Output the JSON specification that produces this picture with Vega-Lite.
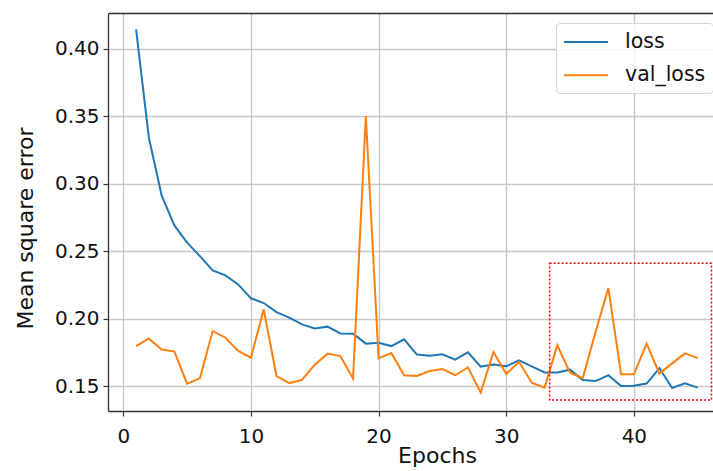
{
  "$schema": "https://vega.github.io/schema/vega-lite/v6.json",
  "width": 605,
  "height": 398,
  "autosize": {"type": "none"},
  "padding": {"left": 108, "top": 13, "right": 0, "bottom": 60},
  "background": "white",
  "config": {
    "view": {"stroke": null},
    "font": "DejaVu Sans",
    "axis": {
      "labelFont": "DejaVu Sans",
      "titleFont": "DejaVu Sans",
      "labelFontSize": 20,
      "titleFontSize": 22,
      "titleFontWeight": "normal",
      "labelColor": "#111",
      "titleColor": "#111",
      "domainColor": "#333",
      "domainWidth": 1.3,
      "tickColor": "#333",
      "tickSize": 5,
      "tickWidth": 1.2,
      "gridColor": "#c8c8c8",
      "gridWidth": 1.4
    },
    "legend": {
      "labelFont": "DejaVu Sans",
      "labelFontSize": 20.5,
      "labelColor": "#111"
    }
  },
  "datasets": {
    "hist": [
      {"epoch": 1, "series": "loss", "value": 0.4142},
      {"epoch": 2, "series": "loss", "value": 0.334},
      {"epoch": 3, "series": "loss", "value": 0.2913},
      {"epoch": 4, "series": "loss", "value": 0.269},
      {"epoch": 5, "series": "loss", "value": 0.2562},
      {"epoch": 6, "series": "loss", "value": 0.2463},
      {"epoch": 7, "series": "loss", "value": 0.2357},
      {"epoch": 8, "series": "loss", "value": 0.232},
      {"epoch": 9, "series": "loss", "value": 0.2253},
      {"epoch": 10, "series": "loss", "value": 0.215},
      {"epoch": 11, "series": "loss", "value": 0.2115},
      {"epoch": 12, "series": "loss", "value": 0.2048},
      {"epoch": 13, "series": "loss", "value": 0.2007},
      {"epoch": 14, "series": "loss", "value": 0.1957},
      {"epoch": 15, "series": "loss", "value": 0.1927},
      {"epoch": 16, "series": "loss", "value": 0.194},
      {"epoch": 17, "series": "loss", "value": 0.189},
      {"epoch": 18, "series": "loss", "value": 0.1888},
      {"epoch": 19, "series": "loss", "value": 0.1814},
      {"epoch": 20, "series": "loss", "value": 0.1821},
      {"epoch": 21, "series": "loss", "value": 0.1796},
      {"epoch": 22, "series": "loss", "value": 0.1846},
      {"epoch": 23, "series": "loss", "value": 0.1733},
      {"epoch": 24, "series": "loss", "value": 0.1725},
      {"epoch": 25, "series": "loss", "value": 0.1735},
      {"epoch": 26, "series": "loss", "value": 0.1695},
      {"epoch": 27, "series": "loss", "value": 0.175},
      {"epoch": 28, "series": "loss", "value": 0.1644},
      {"epoch": 29, "series": "loss", "value": 0.166},
      {"epoch": 30, "series": "loss", "value": 0.1646},
      {"epoch": 31, "series": "loss", "value": 0.169},
      {"epoch": 32, "series": "loss", "value": 0.1646},
      {"epoch": 33, "series": "loss", "value": 0.1601},
      {"epoch": 34, "series": "loss", "value": 0.16},
      {"epoch": 35, "series": "loss", "value": 0.1621},
      {"epoch": 36, "series": "loss", "value": 0.1545},
      {"epoch": 37, "series": "loss", "value": 0.1537},
      {"epoch": 38, "series": "loss", "value": 0.158},
      {"epoch": 39, "series": "loss", "value": 0.15},
      {"epoch": 40, "series": "loss", "value": 0.1502},
      {"epoch": 41, "series": "loss", "value": 0.1518},
      {"epoch": 42, "series": "loss", "value": 0.1633},
      {"epoch": 43, "series": "loss", "value": 0.1485},
      {"epoch": 44, "series": "loss", "value": 0.152},
      {"epoch": 45, "series": "loss", "value": 0.1488},
      {"epoch": 1, "series": "val_loss", "value": 0.1796},
      {"epoch": 2, "series": "val_loss", "value": 0.1853},
      {"epoch": 3, "series": "val_loss", "value": 0.177},
      {"epoch": 4, "series": "val_loss", "value": 0.1755},
      {"epoch": 5, "series": "val_loss", "value": 0.1518},
      {"epoch": 6, "series": "val_loss", "value": 0.1557},
      {"epoch": 7, "series": "val_loss", "value": 0.1907},
      {"epoch": 8, "series": "val_loss", "value": 0.1858},
      {"epoch": 9, "series": "val_loss", "value": 0.176},
      {"epoch": 10, "series": "val_loss", "value": 0.171},
      {"epoch": 11, "series": "val_loss", "value": 0.2068},
      {"epoch": 12, "series": "val_loss", "value": 0.1574},
      {"epoch": 13, "series": "val_loss", "value": 0.1522},
      {"epoch": 14, "series": "val_loss", "value": 0.1545},
      {"epoch": 15, "series": "val_loss", "value": 0.1658},
      {"epoch": 16, "series": "val_loss", "value": 0.174},
      {"epoch": 17, "series": "val_loss", "value": 0.1722},
      {"epoch": 18, "series": "val_loss", "value": 0.1555},
      {"epoch": 19, "series": "val_loss", "value": 0.35},
      {"epoch": 20, "series": "val_loss", "value": 0.1705},
      {"epoch": 21, "series": "val_loss", "value": 0.1744},
      {"epoch": 22, "series": "val_loss", "value": 0.158},
      {"epoch": 23, "series": "val_loss", "value": 0.1574},
      {"epoch": 24, "series": "val_loss", "value": 0.1611},
      {"epoch": 25, "series": "val_loss", "value": 0.1626},
      {"epoch": 26, "series": "val_loss", "value": 0.158},
      {"epoch": 27, "series": "val_loss", "value": 0.1638},
      {"epoch": 28, "series": "val_loss", "value": 0.1451},
      {"epoch": 29, "series": "val_loss", "value": 0.1752},
      {"epoch": 30, "series": "val_loss", "value": 0.1589},
      {"epoch": 31, "series": "val_loss", "value": 0.168},
      {"epoch": 32, "series": "val_loss", "value": 0.1525},
      {"epoch": 33, "series": "val_loss", "value": 0.1488},
      {"epoch": 34, "series": "val_loss", "value": 0.1801},
      {"epoch": 35, "series": "val_loss", "value": 0.1599},
      {"epoch": 36, "series": "val_loss", "value": 0.1559},
      {"epoch": 37, "series": "val_loss", "value": 0.19},
      {"epoch": 38, "series": "val_loss", "value": 0.2226},
      {"epoch": 39, "series": "val_loss", "value": 0.1587},
      {"epoch": 40, "series": "val_loss", "value": 0.1587},
      {"epoch": 41, "series": "val_loss", "value": 0.1814},
      {"epoch": 42, "series": "val_loss", "value": 0.1592},
      {"epoch": 43, "series": "val_loss", "value": 0.1668},
      {"epoch": 44, "series": "val_loss", "value": 0.1742},
      {"epoch": 45, "series": "val_loss", "value": 0.1707}
    ],
    "box": [
      {"x1": 33.4, "x2": 46.08, "y1": 0.1396, "y2": 0.2409}
    ]
  },
  "layer": [
    {
      "data": {"name": "hist"},
      "mark": {"type": "line", "strokeWidth": 2, "clip": true},
      "encoding": {
        "x": {
          "field": "epoch",
          "type": "quantitative",
          "scale": {"domain": [-1.2, 46.2], "nice": false, "zero": false},
          "axis": {
            "orient": "bottom",
            "values": [0, 10, 20, 30, 40],
            "format": "d",
            "title": "Epochs",
            "titleX": 329,
            "titlePadding": -1,
            "labelPadding": 10,
            "grid": true
          }
        },
        "y": {
          "field": "value",
          "type": "quantitative",
          "scale": {"domain": [0.1315, 0.4264], "nice": false, "zero": false},
          "axis": {
            "values": [0.15, 0.2, 0.25, 0.3, 0.35, 0.4],
            "format": ".2f",
            "title": "Mean square error",
            "titleX": -83,
            "titleY": 215,
            "titleBaseline": "middle",
            "labelPadding": 4,
            "grid": true
          }
        },
        "color": {
          "field": "series",
          "type": "nominal",
          "scale": {"domain": ["loss", "val_loss"], "range": ["#1f77b4", "#ff7f0e"]},
          "legend": {
            "title": null,
            "orient": "none",
            "legendX": 448,
            "legendY": 10,
            "symbolType": "M-1,0H3",
            "symbolSize": 484,
            "symbolStrokeWidth": 2,
            "symbolFillColor": "transparent",
            "labelOffset": 38,
            "rowPadding": 10.3,
            "padding": 7,
            "fillColor": "rgba(255,255,255,0.8)",
            "strokeColor": "#d6d6d6",
            "cornerRadius": 4
          }
        }
      }
    },
    {
      "data": {"name": "box"},
      "mark": {"type": "rect", "fillOpacity": 0, "stroke": "#ff0000", "strokeWidth": 1.5, "strokeDash": [2, 2]},
      "encoding": {
        "x": {
          "field": "x1",
          "type": "quantitative",
          "axis": {"orient": "top", "labels": false, "ticks": false, "grid": false, "title": null, "domain": true}
        },
        "x2": {"field": "x2"},
        "y": {"field": "y1", "type": "quantitative"},
        "y2": {"field": "y2"}
      }
    }
  ],
  "resolve": {"axis": {"x": "independent"}}
}
